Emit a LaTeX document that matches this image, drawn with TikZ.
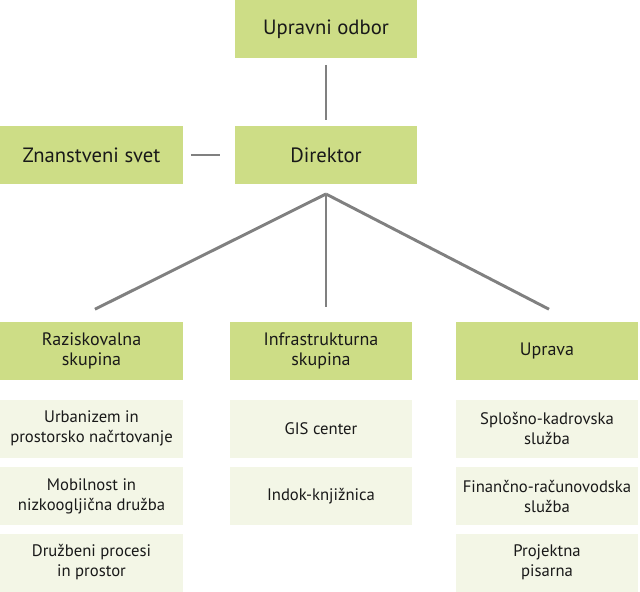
\documentclass[tikz,border=0pt]{standalone}
\usepackage{fontspec}
\setmainfont{PT Sans}
\usepackage{xcolor}
\usepackage{tikz}
\usetikzlibrary{
    positioning
}
\definecolor{orgmain}{RGB}{205,221,134}
\definecolor{orgsub}{RGB}{243,246,230}
\definecolor{orgline}{RGB}{128,128,128}
\tikzset{
    org box/.style={
        align=center,
        minimum width=136.5pt,
        minimum height=43.5pt,
        inner sep=2pt,
        text=black!90
    },
    org top/.style={org box, fill=orgmain, font=\fontsize{15.5}{17}\selectfont},
    org group/.style={org box, fill=orgmain, font=\fontsize{13.5}{15}\selectfont},
    org unit/.style={org box, fill=orgsub, font=\fontsize{12.5}{15}\selectfont},
    org link/.style={draw=orgline, line width=2.2pt}
}

\begin{document}
\begin{tikzpicture}[x=0.75pt, y=-0.75pt]
    \useasboundingbox (0,0) rectangle (640,592);

    \node[org top] (odbor) at (326,29) {Upravni odbor};
    \node[org top] (direktor) at (326,155) {Direktor};
    \node[org top] (svet) at (91.5,155) {Znanstveni svet};

    \node[org group] (razisk) at (91.5,350.5) {Raziskovalna\\skupina};
    \node[org group] (infra) at (321,350.5) {Infrastrukturna\\skupina};
    \node[org group] (uprava) at (547,350.5) {Uprava};

    \node[org unit] (urban) at (91.5,428.5) {Urbanizem in\\prostorsko načrtovanje};
    \node[org unit] (mobil) at (91.5,496) {Mobilnost in\\nizkoogljična družba};
    \node[org unit] (druzb) at (91.5,562.5) {Družbeni procesi\\in prostor};

    \node[org unit] (gis) at (321,428.5) {GIS center};
    \node[org unit] (indok) at (321,496) {Indok-knjižnica};

    \node[org unit] (kadr) at (547,428.5) {Splošno-kadrovska\\služba};
    \node[org unit] (finan) at (547,496) {Finančno-računovodska\\služba};
    \node[org unit] (pisar) at (547,562.5) {Projektna\\pisarna};

    % fan below Direktor
    \coordinate (fork) at (326,194);
    \coordinate (rtip) at ([xshift=2.6pt, yshift=9pt]razisk.north);
    \coordinate (itip) at ([yshift=10.5pt]infra.north -| fork);
    \coordinate (utip) at ([xshift=1.5pt, yshift=9pt]uprava.north);

    \draw[org link, shorten <=5pt, shorten >=4pt] (odbor) -- (direktor);
    \draw[org link, shorten <=6pt, shorten >=11pt] (svet) -- (direktor);
    \foreach \target in {rtip,itip,utip}
        \draw[org link] (fork) -- (\target);
\end{tikzpicture}
\end{document}
